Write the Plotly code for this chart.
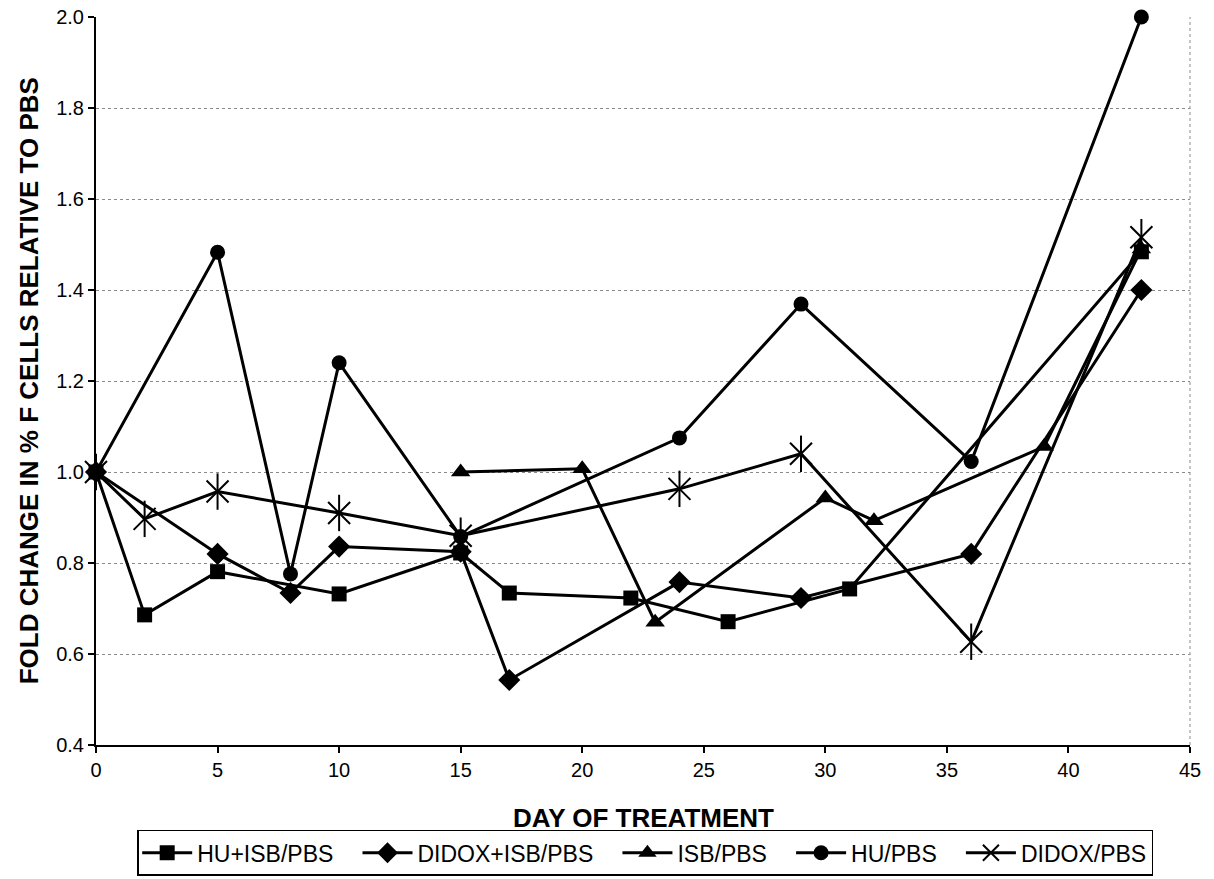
import plotly.graph_objects as go

# Day of treatment and fold change in % F cells relative to PBS, per treatment arm
hu_isb_days = [0, 2, 5, 10, 15, 17, 22, 26, 31, 43]
hu_isb_vals = [1.00, 0.686, 0.781, 0.732, 0.822, 0.734, 0.723, 0.671, 0.743, 1.484]

didox_isb_days = [0, 5, 8, 10, 15, 17, 24, 29, 36, 43]
didox_isb_vals = [1.00, 0.820, 0.734, 0.836, 0.825, 0.543, 0.758, 0.723, 0.820, 1.400]

isb_days = [15, 20, 23, 30, 32, 39, 43]
isb_vals = [1.00, 1.007, 0.670, 0.943, 0.893, 1.056, 1.490]

hu_days = [0, 5, 8, 10, 15, 24, 29, 36, 43]
hu_vals = [1.00, 1.483, 0.776, 1.240, 0.858, 1.075, 1.369, 1.023, 2.00]

didox_days = [0, 2, 5, 10, 15, 24, 29, 36, 43]
didox_vals = [1.00, 0.897, 0.957, 0.910, 0.860, 0.963, 1.040, 0.627, 1.516]

x_ticks = [0, 5, 10, 15, 20, 25, 30, 35, 40, 45]
y_ticks = [0.4, 0.6, 0.8, 1.0, 1.2, 1.4, 1.6, 1.8, 2.0]

FONT = "Liberation Sans, Arial, sans-serif"
LINE = dict(color="black", width=3)
PAD = "\u00a0\u00a0\u00a0"  # extra room after each legend label

fig = go.Figure()

fig.add_trace(go.Scatter(
    x=hu_isb_days, y=hu_isb_vals, name="HU+ISB/PBS" + PAD, mode="lines+markers",
    line=LINE, marker=dict(symbol="square", size=15, color="black"), cliponaxis=False))
fig.add_trace(go.Scatter(
    x=didox_isb_days, y=didox_isb_vals, name="DIDOX+ISB/PBS" + PAD, mode="lines+markers",
    line=LINE, marker=dict(symbol="diamond", size=17, color="black"), cliponaxis=False))
fig.add_trace(go.Scatter(
    x=isb_days, y=isb_vals, name="ISB/PBS" + PAD, mode="lines+markers",
    line=LINE, marker=dict(symbol="triangle-up", size=17, color="black"), cliponaxis=False))
fig.add_trace(go.Scatter(
    x=hu_days, y=hu_vals, name="HU/PBS" + PAD, mode="lines+markers",
    line=LINE, marker=dict(symbol="circle", size=15, color="black"), cliponaxis=False))
fig.add_trace(go.Scatter(
    x=didox_days, y=didox_vals, name="DIDOX/PBS", mode="lines+markers",
    line=LINE, legendgroup="didox",
    marker=dict(symbol="x-thin-open", size=22, color="black",
                line=dict(color="black", width=2)), cliponaxis=False))
# vertical stroke completes the six-armed asterisk marker
fig.add_trace(go.Scatter(
    x=didox_days, y=didox_vals, mode="markers", showlegend=False, legendgroup="didox",
    marker=dict(symbol="line-ns-open", size=26, color="black",
                line=dict(color="black", width=2)), cliponaxis=False))

fig.update_xaxes(
    range=[0, 45], tickvals=x_ticks, ticks="outside", ticklen=6, tickwidth=1.5,
    tickcolor="black", showline=True, linecolor="black", linewidth=2,
    showgrid=False, zeroline=False, tickfont=dict(family=FONT, size=20, color="black"))
fig.update_yaxes(
    range=[0.4, 2.0], tickvals=y_ticks, tickformat=".1f", ticks="outside", ticklen=6,
    tickwidth=1.5, tickcolor="black", showline=True, linecolor="black", linewidth=2,
    showgrid=True, gridcolor="#8a8a8a", gridwidth=1, griddash="dot", zeroline=False,
    tickfont=dict(family=FONT, size=20, color="black"))

# dotted right-hand frame edge
fig.add_shape(type="line", xref="paper", yref="paper", x0=1, x1=1, y0=0, y1=1,
              line=dict(color="#8a8a8a", width=1, dash="dot"))

fig.add_annotation(text="<b>FOLD CHANGE IN % F CELLS RELATIVE TO PBS</b>",
                   xref="paper", yref="paper", x=-0.061, y=0.5, textangle=-90,
                   showarrow=False, xanchor="center", yanchor="middle",
                   font=dict(family=FONT, size=26, color="black"))
fig.add_annotation(text="<b>DAY OF TREATMENT</b>",
                   xref="paper", yref="paper", x=0.5, y=-0.100,
                   showarrow=False, xanchor="center", yanchor="middle",
                   font=dict(family=FONT, size=26, color="black"))

fig.update_layout(
    width=1214, height=879,
    margin=dict(l=96, r=24, t=17, b=134, autoexpand=False),
    paper_bgcolor="white", plot_bgcolor="white",
    showlegend=True,
    legend=dict(orientation="h", x=0.502, xanchor="center", y=-0.1165, yanchor="top",
                bordercolor="black", borderwidth=1.5, bgcolor="white",
                font=dict(family=FONT, size=23, color="black"),
                itemwidth=50, tracegroupgap=0),
)

fig.write_html("out.html")
